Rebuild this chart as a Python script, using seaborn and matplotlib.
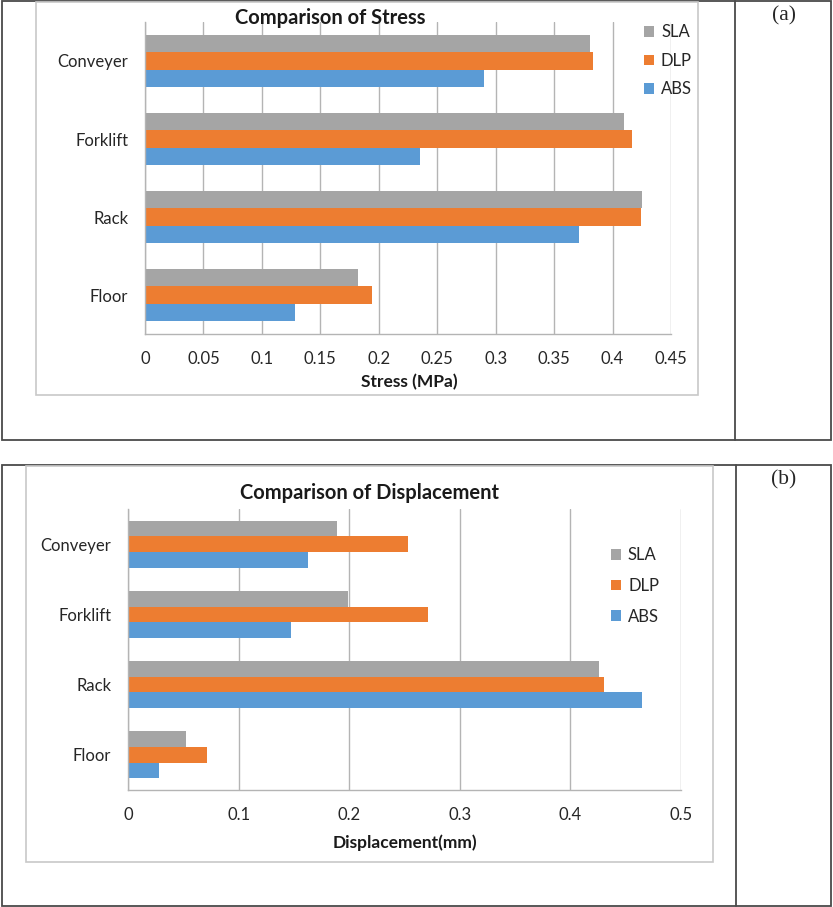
import matplotlib.pyplot as plt
import numpy as np
import pandas as pd
import seaborn as sns
from matplotlib.lines import Line2D
from matplotlib.patches import Patch, Rectangle

W, H = 833, 907

locations = ['Conveyer', 'Forklift', 'Rack', 'Floor']
materials = ['SLA', 'DLP', 'ABS']

stress_sla = [0.381, 0.410, 0.425, 0.182]
stress_dlp = [0.383, 0.417, 0.424, 0.194]
stress_abs = [0.290, 0.235, 0.371, 0.128]

disp_sla = [0.189, 0.199, 0.426, 0.052]
disp_dlp = [0.253, 0.271, 0.430, 0.071]
disp_abs = [0.163, 0.147, 0.465, 0.028]

stress_ticks = [0, 0.05, 0.1, 0.15, 0.2, 0.25, 0.3, 0.35, 0.4, 0.45]
stress_tick_labels = ['0', '0.05', '0.1', '0.15', '0.2', '0.25', '0.3', '0.35', '0.4', '0.45']
disp_ticks = [0, 0.1, 0.2, 0.3, 0.4, 0.5]
disp_tick_labels = ['0', '0.1', '0.2', '0.3', '0.4', '0.5']

palette = {'SLA': '#a5a5a5', 'DLP': '#ed7d31', 'ABS': '#5b9bd5'}
AXIS_GREY = '#b4b4b4'
FONT = ['Lato', 'DejaVu Sans']
TICK_SIZE = 12


def to_long(sla, dlp, abs_):
    rows = []
    for mat, vals in zip(materials, [sla, dlp, abs_]):
        for loc, v in zip(locations, vals):
            rows.append({'location': loc, 'material': mat, 'value': v})
    return pd.DataFrame(rows)


def fx(x):
    return x / W


def fy(y):
    return 1 - y / H


def add_line(fig, x0, y0, x1, y1, color, lw):
    fig.add_artist(Line2D([fx(x0), fx(x1)], [fy(y0), fy(y1)], color=color, lw=lw,
                          transform=fig.transFigure))


def add_box(fig, x0, y0, x1, y1, color, lw):
    fig.add_artist(Rectangle((fx(x0), fy(y1)), fx(x1) - fx(x0), fy(y0) - fy(y1),
                             fill=False, edgecolor=color, lw=lw, transform=fig.transFigure))


def draw_panel(fig, df, rect, ticks, tick_labels, xmax):
    left, top, right, bottom = rect
    ax = fig.add_axes([fx(left), fy(bottom), fx(right) - fx(left), fy(top) - fy(bottom)])
    sns.barplot(data=df, x='value', y='location', hue='material', order=locations,
                hue_order=materials, palette=palette, saturation=1, width=0.67,
                linewidth=0, legend=False, ax=ax, orient='h')
    ax.set_xlim(0, xmax)
    ax.set_xticks(ticks)
    ax.set_xticklabels(tick_labels)
    ax.set_yticks(range(len(locations)))
    ax.set_yticklabels(locations)
    ax.set_yticks([i - 0.5 for i in range(len(locations) + 1)], minor=True)
    ax.set_xlabel('')
    ax.set_ylabel('')
    ax.grid(axis='x', color=AXIS_GREY, lw=1)
    ax.grid(axis='y', visible=False)
    ax.set_axisbelow(True)
    for side in ['top', 'right']:
        ax.spines[side].set_visible(False)
    for side in ['left', 'bottom']:
        ax.spines[side].set_color(AXIS_GREY)
        ax.spines[side].set_linewidth(1)
    ax.tick_params(axis='y', which='major', length=0, pad=12, labelsize=TICK_SIZE,
                   labelcolor='#262626')
    ax.tick_params(axis='y', which='minor', length=5, color=AXIS_GREY, direction='out')
    ax.tick_params(axis='x', which='major', length=5, color=AXIS_GREY, direction='out',
                   pad=7, labelsize=TICK_SIZE, labelcolor='#262626')
    return ax


def main():
    sns.set_theme(style='white')
    plt.rcParams['font.family'] = FONT

    fig = plt.figure(figsize=(W / 100, H / 100), dpi=100)

    # table cells
    table_col = '#4a4a4a'
    add_box(fig, 2, 1, 831, 440, table_col, 1.3)
    add_line(fig, 735, 1, 735, 440, table_col, 1.3)
    add_box(fig, 2, 465, 831, 906, table_col, 1.3)
    add_line(fig, 736, 465, 736, 906, table_col, 1.3)

    # chart areas
    add_box(fig, 36, 2, 698, 395, '#c8c8c8', 1.2)
    add_box(fig, 26, 466, 713, 862, '#c8c8c8', 1.2)

    stress = to_long(stress_sla, stress_dlp, stress_abs)
    disp = to_long(disp_sla, disp_dlp, disp_abs)

    draw_panel(fig, stress, (145, 22, 671, 334), stress_ticks, stress_tick_labels, 0.45)
    draw_panel(fig, disp, (128, 509, 681, 790), disp_ticks, disp_tick_labels, 0.5)

    fig.text(fx(330), fy(18), 'Comparison of Stress', ha='center', va='center',
             fontsize=14.5, fontweight='bold', color='#1a1a1a')
    fig.text(fx(370), fy(493), 'Comparison of Displacement', ha='center', va='center',
             fontsize=14.5, fontweight='bold', color='#1a1a1a')
    fig.text(fx(409), fy(382), 'Stress (MPa)', ha='center', va='center',
             fontsize=12.5, fontweight='bold', color='#1a1a1a')
    fig.text(fx(405), fy(843), 'Displacement(mm)', ha='center', va='center',
             fontsize=12.5, fontweight='bold', color='#1a1a1a')

    fig.text(fx(784), fy(16), '(a)', ha='center', va='center', fontsize=15.5,
             family=['Liberation Serif', 'DejaVu Serif'])
    fig.text(fx(784), fy(480), '(b)', ha='center', va='center', fontsize=15.5,
             family=['Liberation Serif', 'DejaVu Serif'])

    handles = [Patch(facecolor=palette[m], edgecolor='none') for m in materials]
    fig.legend(handles, materials, loc='upper left', bbox_to_anchor=(fx(636), fy(16)),
               bbox_transform=fig.transFigure, frameon=False, handlelength=0.6,
               handleheight=0.6, handletextpad=0.4, labelspacing=0.75, borderpad=0,
               fontsize=12, labelcolor='#262626')
    fig.legend(handles, materials, loc='upper left', bbox_to_anchor=(fx(603), fy(539)),
               bbox_transform=fig.transFigure, frameon=False, handlelength=0.6,
               handleheight=0.6, handletextpad=0.4, labelspacing=0.88, borderpad=0,
               fontsize=12, labelcolor='#262626')

    fig.savefig('out.png', dpi=100, facecolor='white')


if __name__ == '__main__':
    main()
